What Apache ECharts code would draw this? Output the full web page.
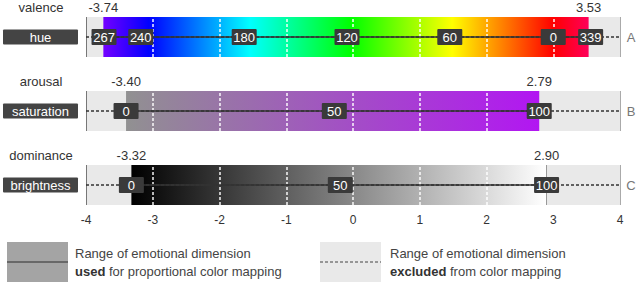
<!DOCTYPE html>
<html><head><meta charset="utf-8">
<script src="https://cdn.jsdelivr.net/npm/echarts@6/dist/echarts.min.js"></script>
<style>html,body{margin:0;padding:0;background:#fff}#c{width:640px;height:286px}</style>
</head><body><div id="c"></div>
<script>
// ---- data ----
const dimensions = ['valence', 'arousal', 'dominance'];
const channels = ['hue', 'saturation', 'brightness'];
const rowTags = ['A', 'B', 'C'];
const rangeMin = [-3.74, -3.40, -3.32];
const rangeMax = [3.53, 2.79, 2.90];
const xTicks = [-4, -3, -2, -1, 0, 1, 2, 3, 4];
const hueValues = [267, 240, 180, 120, 60, 0, 339];
const hueLabelPos = [-3.73, -3.18, -1.63, -0.09, 1.45, 3.00, 3.56];
const satValues = [0, 50, 100];
const satLabelPos = [-3.40, -0.28, 2.79];
const briValues = [0, 50, 100];
const briLabelPos = [-3.32, -0.19, 2.90];

// ---- styling / layout ----
const FONT = "'Liberation Sans', Arial, sans-serif";
const gridTops = [17, 91, 165];
const gridH = 40;
const G_LEFT = 86, G_RIGHT = 20;

function hsl(h) { return 'hsl(' + ((h % 360) + 360) % 360 + ',100%,50%)'; }
const hueUnwrapped = hueValues.map((h, i) => (i > 0 && h > hueValues[i - 1]) ? h - 360 : h);
const hueSpan = hueUnwrapped[0] - hueUnwrapped[hueUnwrapped.length - 1];
const hueStops = hueUnwrapped.map(h => ({ offset: (hueUnwrapped[0] - h) / hueSpan, color: hsl(h) }));
const gradients = [
  new echarts.graphic.LinearGradient(0, 0, 1, 0, hueStops),
  new echarts.graphic.LinearGradient(0, 0, 1, 0, [{ offset: 0, color: 'rgb(145,145,145)' }, { offset: 1, color: 'rgb(178,22,242)' }]),
  new echarts.graphic.LinearGradient(0, 0, 1, 0, [{ offset: 0, color: '#000' }, { offset: 1, color: '#fff' }])
];
const labelSets = [
  [hueLabelPos, hueValues],
  [satLabelPos, satValues],
  [briLabelPos, briValues]
];

const grids = [], xAxes = [], yAxes = [], series = [], graphics = [];
for (let i = 0; i < 3; i++) {
  grids.push({ left: G_LEFT, right: G_RIGHT, top: gridTops[i], height: gridH });
  xAxes.push({
    gridIndex: i, type: 'value', min: xTicks[0], max: xTicks[xTicks.length - 1], interval: 1,
    axisLine: { show: false }, axisTick: { show: false }, splitLine: { show: false },
    axisLabel: { show: i === 2, color: '#333', fontSize: 12, margin: 9, fontFamily: FONT }
  });
  yAxes.push({ gridIndex: i, type: 'value', min: 0, max: 1, show: false });
  const lo = rangeMin[i], hi = rangeMax[i];
  const fills = ['#e9e9e9', gradients[i]];
  const bLines = [
    { xAxis: xTicks[0], lineStyle: { color: '#777', type: 'solid', width: 1 } },
    { xAxis: xTicks[xTicks.length - 1], lineStyle: { color: '#aaa', type: 'solid', width: 1 } }
  ];
  if (i === 2) bLines.push({ xAxis: hi, lineStyle: { color: '#999', type: 'solid', width: 1 } });
  series.push({
    type: 'custom', xAxisIndex: i, yAxisIndex: i, z: 1, silent: true,
    encode: { x: [0, 1] },
    data: [[xTicks[0], xTicks[xTicks.length - 1]], [lo, hi]],
    renderItem: function (params, api) {
      const p0 = api.coord([api.value(0), 1]);
      const p1 = api.coord([api.value(1), 0]);
      return { type: 'rect', shape: { x: p0[0], y: p0[1], width: p1[0] - p0[0], height: p1[1] - p0[1] },
        style: { fill: fills[params.dataIndex] } };
    },
    markLine: {
      silent: true, symbol: ['none', 'none'], label: { show: false }, z: 3,
      data: xTicks.filter(v => v > lo && v < hi).map(v => ({ xAxis: v, lineStyle: { color: '#fff', type: [3, 2], width: 1.5, opacity: 0.95 } })).concat(bLines)
    }
  });
  series.push({
    type: 'line', xAxisIndex: i, yAxisIndex: i, z: 6, silent: true, symbol: 'none',
    lineStyle: { color: '#333', width: 1.3, type: [3, 2] },
    data: [[xTicks[0], 0.5], [xTicks[xTicks.length - 1], 0.5]]
  });
  series.push({
    type: 'line', xAxisIndex: i, yAxisIndex: i, z: 7, silent: true, symbol: 'none',
    lineStyle: { color: '#333', width: 1.6 },
    data: [[lo, 0.5], [hi, 0.5]]
  });
  const [pos, vals] = labelSets[i];
  series.push({
    type: 'scatter', xAxisIndex: i, yAxisIndex: i, z: 10, silent: true, symbolSize: 1,
    itemStyle: { color: 'rgba(0,0,0,0)', opacity: 1 },
    data: pos.map((p, k) => [p, 0.5, String(vals[k])]),
    label: { show: true, position: 'inside', formatter: p => p.data[2], color: '#fff', fontSize: 13,
      fontFamily: FONT, backgroundColor: '#3a3a3a', width: 21, align: 'center', padding: [1, 2], lineHeight: 14, borderRadius: 1 }
  });
  series.push({
    type: 'scatter', xAxisIndex: i, yAxisIndex: i, z: 10, silent: true, symbolSize: 1,
    itemStyle: { color: 'rgba(0,0,0,0)', opacity: 1 },
    data: [[lo, 1, lo.toFixed(2)], [hi, 1, hi.toFixed(2)]],
    label: { show: true, position: 'top', distance: 3, formatter: p => p.data[2], color: '#333', fontSize: 13, fontFamily: FONT }
  });
  const cy = gridTops[i] + gridH / 2;
  graphics.push({ type: 'text', x: 41, y: gridTops[i] - 10, style: { text: dimensions[i], fill: '#333', font: '13px ' + FONT, textAlign: 'center', textVerticalAlign: 'middle' } });
  graphics.push({ type: 'rect', x: 3, y: cy - 7.5, shape: { width: 75, height: 15, r: 1 }, style: { fill: '#444' } });
  graphics.push({ type: 'text', x: 40.5, y: cy, style: { text: channels[i], fill: '#fff', font: '13px ' + FONT, textAlign: 'center', textVerticalAlign: 'middle' } });
  graphics.push({ type: 'text', x: 631, y: cy, style: { text: rowTags[i], fill: '#777', font: '13px ' + FONT, textAlign: 'center', textVerticalAlign: 'middle' } });
}
// legend
graphics.push({ type: 'rect', x: 7, y: 242, shape: { width: 61, height: 40 }, style: { fill: '#a4a4a4' } });
graphics.push({ type: 'line', shape: { x1: 7, y1: 262, x2: 68, y2: 262 }, style: { stroke: '#555', lineWidth: 1.5 } });
graphics.push({ type: 'rect', x: 320, y: 242, shape: { width: 61, height: 40 }, style: { fill: '#e9e9e9' } });
graphics.push({ type: 'line', shape: { x1: 320, y1: 262, x2: 381, y2: 262 }, style: { stroke: '#444', lineWidth: 1.2, lineDash: [3, 2] } });
function legendText(x, bold, rest) {
  return { type: 'text', x: x, y: 244, style: {
    text: '{n|Range of emotional dimension}\n{b|' + bold + '}{n|' + rest + '}',
    rich: { n: { fontSize: 13, fontFamily: FONT, fill: '#444', lineHeight: 18 },
            b: { fontSize: 13, fontFamily: FONT, fontWeight: 'bold', fill: '#333', lineHeight: 18 } } } };
}
graphics.push(legendText(75, 'used', ' for proportional color mapping'));
graphics.push(legendText(390, 'excluded', ' from color mapping'));

const chart = echarts.init(document.getElementById('c'), null, { renderer: 'svg' });
chart.setOption({
  animation: false,
  textStyle: { fontFamily: FONT },
  grid: grids, xAxis: xAxes, yAxis: yAxes, series: series, graphic: graphics
});
</script></body></html>
